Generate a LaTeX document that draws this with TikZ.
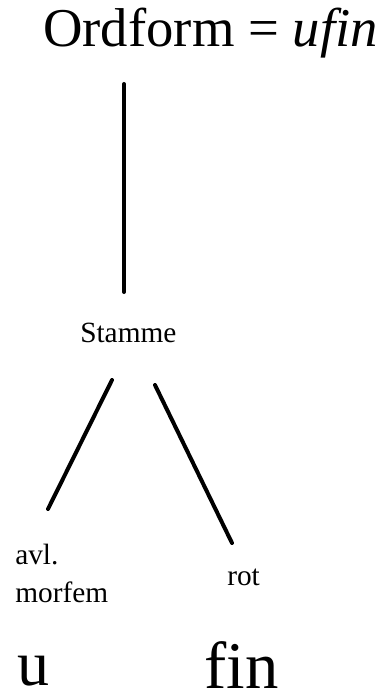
\documentclass[tikz,border=0pt]{standalone}
\usepackage{fontspec}
\setmainfont{Liberation Serif}
\begin{document}
\begin{tikzpicture}[x=0.75pt,y=-0.75pt,
  word/.style={inner sep=0pt,anchor=base west},
  big/.style={word,font=\fontsize{41}{48}\selectfont},
  small/.style={word,font=\fontsize{22}{28.5}\selectfont,align=left},
  branch/.style={line width=3pt,line cap=round}]
\useasboundingbox (0,0) rectangle (387,699);

% ---- the word and its parts
\node[big] (ordform) at (43,47) {Ordform = \textit{ufin}};
\node[small] (stamme) at (80,342) {Stamme};
\node[small] (avl) at (15,602) {avl.\\morfem};
\node[small] (rot) at (227,585) {rot};
\node[big,font=\fontsize{48}{56}\selectfont] (u) at (17,685) {u};
\node[big,font=\fontsize{50}{60}\selectfont] (fin) at (204,688) {fin};

% ---- branch ends
\coordinate (ordfoot) at (124,84);
\coordinate (stamhead) at (124,292);
\coordinate (stamfootl) at (112,380);
\coordinate (avlhead) at (48,509);
\coordinate (stamfootr) at (155,385);
\coordinate (rothead) at (232,543);

% ---- branches
\draw[branch] (ordfoot) -- (stamhead);
\draw[branch] (stamfootl) -- (avlhead);
\draw[branch] (stamfootr) -- (rothead);
\end{tikzpicture}
\end{document}
